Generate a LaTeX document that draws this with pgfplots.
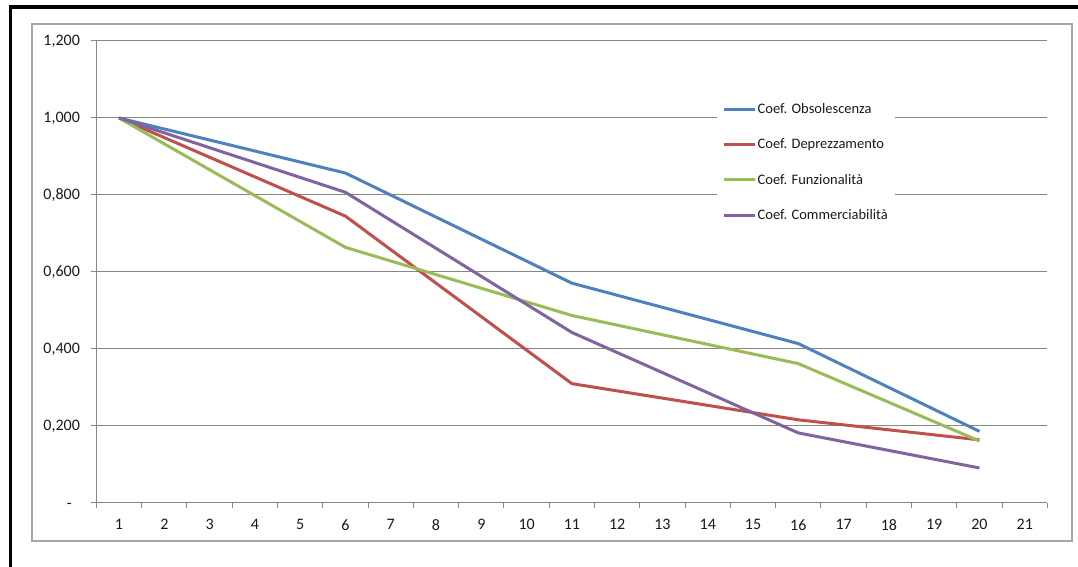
\documentclass[border=0pt]{standalone}
\usepackage{pgfplots}
\pgfplotsset{compat=1.18}
\usepackage{fontspec}
\setmainfont{Carlito}
\definecolor{cblue}{HTML}{4F81BD}
\definecolor{cred}{HTML}{C0504D}
\definecolor{cgreen}{HTML}{9BBB59}
\definecolor{cpurple}{HTML}{8064A2}
\definecolor{gridgray}{HTML}{868686}
\definecolor{framegray}{HTML}{A6A6A6}
\definecolor{txt}{HTML}{1A1A1A}
\begin{document}
\begin{tikzpicture}[x=1pt,y=1pt]
\useasboundingbox (0,0) rectangle (1078,567);
\fill[white] (0,0) rectangle (1078,567);
% outer frames
\draw[black, line width=3.5pt] (10.5,0) -- (10.5,560) -- (1078,560);
\draw[framegray, line width=1.3pt] (32,26) rectangle (1072,543);
\begin{axis}[
  at={(96.4pt,64pt)}, anchor=south west,
  scale only axis, width=951pt, height=462pt,
  xmin=0.5, xmax=21.5, ymin=0, ymax=1.2,
  axis x line*=bottom, axis y line*=left,
  axis line style={gridgray, line width=1pt, -},
  xtick={1,...,21},
  xticklabels={1,2,3,4,5,6,7,8,9,10,11,12,13,14,15,16,17,18,19,20,21},
  minor xtick={0.5,1.5,...,21.5},
  ytick={0,0.2,0.4,0.6,0.8,1.0,1.2},
  yticklabels={-\phantom{0},{0,200},{0,400},{0,600},{0,800},{1,000},{1,200}},
  tick align=outside, tick pos=left,
  major tick length=5pt, minor tick length=5pt,
  major x tick style={draw=none},
  minor x tick style={gridgray, line width=1pt},
  major y tick style={gridgray, line width=1pt},
  ymajorgrids, grid style={gridgray, line width=1pt},
  ticklabel style={font=\fontsize{16}{19}\selectfont, text=txt},
  yticklabel style={xshift=-8pt},
  xticklabel style={yshift=-8pt},
  legend style={at={(0.652,0.885)}, anchor=north west, draw=none, fill=white,
    font=\fontsize{14.5}{17}\selectfont, text=txt,
    row sep=21.8pt, inner xsep=6pt, inner ysep=8pt,
    nodes={inner sep=1pt}},
  legend cell align=left,
  legend image code/.code={\draw[#1, line width=3pt] (0pt,0pt) -- (31pt,0pt);},
  every axis plot/.append style={line width=3pt, line join=round},
]
\addplot[cblue] coordinates {(1,1.000) (6,0.857) (11,0.571) (16,0.414) (20,0.186)};
\addlegendentry{Coef. Obsolescenza}
\addplot[cred] coordinates {(1,1.000) (6,0.745) (11,0.310) (16,0.216) (20,0.164)};
\addlegendentry{Coef. Deprezzamento}
\addplot[cgreen] coordinates {(1,1.000) (6,0.664) (11,0.487) (16,0.362) (20,0.161)};
\addlegendentry{Coef. Funzionalità}
\addplot[cpurple] coordinates {(1,1.000) (6,0.807) (11,0.443) (16,0.182) (20,0.091)};
\addlegendentry{Coef. Commerciabilità}
\end{axis}
\end{tikzpicture}
\end{document}
